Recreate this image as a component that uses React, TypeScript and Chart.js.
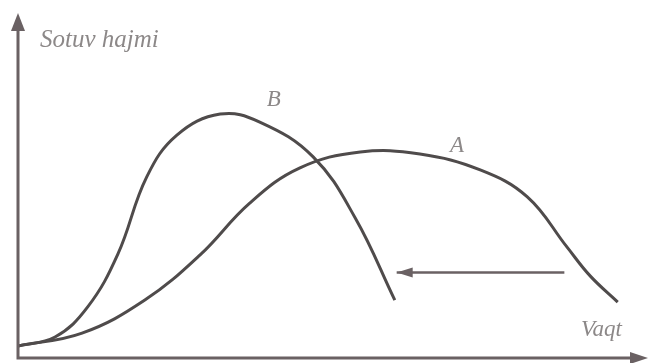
import React, { useEffect, useRef } from "react";
import { Chart, registerables } from "chart.js";

Chart.register(...registerables);

// Time (x) and sales volume (y), arbitrary units 0..100
const curveB_time = [0, 5.9, 11.1, 15.9, 20.5, 25.3, 32.2, 38.5, 47.0, 53.7, 60.0];
const curveB_sales = [3.5, 6.1, 14.8, 30.1, 52.5, 64.6, 70.7, 68.4, 58.3, 40.6, 16.8];

const curveA_time = [0, 10.2, 20.2, 29.0, 36.9, 44.9, 54.5, 64.0, 73.6, 81.1, 87.4, 91.1, 95.5];
const curveA_sales = [3.5, 7.2, 16.8, 29.9, 44.9, 55.1, 59.7, 59.1, 54.5, 46.7, 32.2, 23.8, 16.2];

const arrow_time = [60.3, 87.0];
const arrow_sales = [24.8, 24.8];

const yAxisTitle = "Sotuv hajmi";
const xAxisTitle = "Vaqt";
const curveLabels = ["B", "A"];

const toPoints = (xs: number[], ys: number[]) => xs.map((x, i) => ({ x, y: ys[i] }));

const CURVE = "#4f4b4b";
const AXIS = "#6a6163";
const TEXT = "#8c8888";

const decorPlugin = {
  id: "decor",
  afterDatasetsDraw(chart: any) {
    const { ctx, chartArea, scales } = chart;
    const xs = scales.x;
    const ys = scales.y;
    ctx.save();
    // axes
    ctx.strokeStyle = AXIS;
    ctx.fillStyle = AXIS;
    ctx.lineWidth = 3;
    ctx.beginPath();
    ctx.moveTo(chartArea.left, chartArea.top + 6);
    ctx.lineTo(chartArea.left, chartArea.bottom);
    ctx.lineTo(chartArea.right - 6, chartArea.bottom);
    ctx.stroke();
    // y arrowhead
    ctx.beginPath();
    ctx.moveTo(chartArea.left, chartArea.top);
    ctx.lineTo(chartArea.left - 7, chartArea.top + 18);
    ctx.lineTo(chartArea.left + 7, chartArea.top + 18);
    ctx.closePath();
    ctx.fill();
    // x arrowhead
    ctx.beginPath();
    ctx.moveTo(chartArea.right + 2, chartArea.bottom);
    ctx.lineTo(chartArea.right - 16, chartArea.bottom - 6);
    ctx.lineTo(chartArea.right - 16, chartArea.bottom + 6);
    ctx.closePath();
    ctx.fill();
    // middle arrow head
    const meta = chart.getDatasetMeta(2);
    const p = meta.data[0];
    ctx.beginPath();
    ctx.moveTo(p.x, p.y);
    ctx.lineTo(p.x + 16, p.y - 5);
    ctx.lineTo(p.x + 16, p.y + 5);
    ctx.closePath();
    ctx.fill();
    // texts
    ctx.fillStyle = TEXT;
    ctx.textBaseline = "alphabetic";
    ctx.textAlign = "left";
    ctx.font = "italic 25px 'Liberation Serif', 'DejaVu Serif', serif";
    ctx.fillText(yAxisTitle, 40, 47);
    ctx.font = "italic 23px 'Liberation Serif', 'DejaVu Serif', serif";
    ctx.fillText(xAxisTitle, 581, 336);
    ctx.font = "italic 23px 'Liberation Serif', 'DejaVu Serif', serif";
    ctx.fillText(curveLabels[0], xs.getPixelForValue(39.6), ys.getPixelForValue(73.0));
    ctx.fillText(curveLabels[1], xs.getPixelForValue(68.8), ys.getPixelForValue(59.6));
    ctx.restore();
  },
};

export default function App() {
  const ref = useRef<HTMLCanvasElement>(null);
  useEffect(() => {
    if (!ref.current) return;
    const chart = new Chart(ref.current, {
      type: "line",
      data: {
        datasets: [
          {
            label: curveLabels[0],
            data: toPoints(curveB_time, curveB_sales),
            borderColor: CURVE,
            borderWidth: 3,
            pointRadius: 0,
            tension: 0.4,
            fill: false,
          },
          {
            label: curveLabels[1],
            data: toPoints(curveA_time, curveA_sales),
            borderColor: CURVE,
            borderWidth: 3,
            pointRadius: 0,
            tension: 0.4,
            fill: false,
          },
          {
            label: "arrow",
            data: toPoints(arrow_time, arrow_sales),
            borderColor: AXIS,
            borderWidth: 2.5,
            pointRadius: 0,
            fill: false,
          },
        ],
      },
      options: {
        responsive: false,
        animation: false,
        layout: { padding: { left: 18, top: 13, right: 3, bottom: 5 } },
        plugins: { legend: { display: false }, tooltip: { enabled: false } },
        scales: {
          x: { type: "linear", min: 0, max: 100, display: false },
          y: { type: "linear", min: 0, max: 100, display: false },
        },
      },
      plugins: [decorPlugin],
    });
    return () => chart.destroy();
  }, []);
  return (
    <div style={{ position: "fixed", left: 0, top: 0, width: 649, height: 363, background: "#fff" }}>
      <canvas ref={ref} width={649} height={363} />
    </div>
  );
}
